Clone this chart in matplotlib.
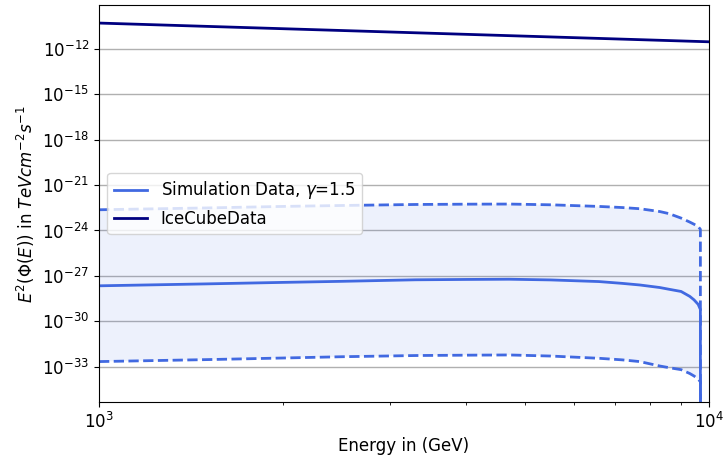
import matplotlib
matplotlib.use("Agg")
import matplotlib.pyplot as plt
import matplotlib.ticker as mticker
import numpy as np

# Energy grid (GeV)
energy = [1000, 1500, 2000, 2500, 3300, 4000, 4700, 5500, 6600, 7200, 7700,
          8300, 8600, 9000, 9300, 9450, 9600, 9680, 9720]
# Simulation central flux
sim_central = [2.2e-28, 2.95e-28, 3.7e-28, 4.35e-28, 5.5e-28, 5.8e-28, 6.0e-28,
               5.4e-28, 4.2e-28, 3.2e-28, 2.5e-28, 1.7e-28, 1.3e-28, 9.3e-29,
               4.4e-29, 2.6e-29, 1.3e-29, 6.0e-30, 0.0]
# Upper and lower envelopes
sim_upper = [2.35e-23, 3.1e-23, 3.9e-23, 4.5e-23, 5.25e-23, 5.5e-23, 5.6e-23,
             5.0e-23, 3.9e-23, 3.3e-23, 2.75e-23, 1.8e-23, 1.3e-23, 6.6e-24,
             3.6e-24, 2.6e-24, 1.8e-24, 1.2e-24, 0.0]
sim_lower = [2.15e-33, 2.9e-33, 3.7e-33, 4.5e-33, 5.4e-33, 5.7e-33, 5.9e-33,
             5.0e-33, 3.55e-33, 2.8e-33, 2.15e-33, 1.1e-33, 8.5e-34, 6.3e-34,
             3.5e-34, 2.4e-34, 1.5e-34, 1.0e-34, 0.0]
# IceCube reference
icecube_energy = [1000, 10000]
icecube_flux = [5.2e-11, 3.0e-12]

ytick_vals = [1e-33, 1e-30, 1e-27, 1e-24, 1e-21, 1e-18, 1e-15, 1e-12]

fig = plt.figure(figsize=(7.24, 4.63), dpi=100)
ax = fig.add_axes([99/724, 1-402/463, 610/724, 397/463])

col = "royalblue"
ax.fill_between(energy, sim_lower, sim_upper, color=col, alpha=0.09, linewidth=0)
ax.plot(energy, sim_central, color=col, lw=2, label=r"Simulation Data, $\gamma$=1.5")
ax.plot(energy, sim_upper, color=col, lw=2, ls="--")
ax.plot(energy, sim_lower, color=col, lw=2, ls="--")
ax.plot(icecube_energy, icecube_flux, color="navy", lw=2, label="IceCubeData")

ax.set_xscale("log")
ax.set_yscale("log")
ax.set_xlim(1e3, 1e4)
ax.set_ylim(10**-35.34, 10**-9.09)
ax.set_yticks(ytick_vals)
ax.yaxis.set_minor_locator(mticker.NullLocator())
ax.yaxis.grid(True, color="#b0b0b0", lw=1)
ax.set_axisbelow(True)

ax.tick_params(axis="both", which="major", labelsize=12)
ax.set_xlabel("Energy in (GeV)", fontsize=12)
ax.set_ylabel(r"$E^2(\Phi(E))$ in $TeV cm^{-2} s^{-1}$", fontsize=12)

ax.legend(loc="center left", bbox_to_anchor=(0.0, 0.5), fontsize=12)

fig.savefig("out.png", dpi=100)
